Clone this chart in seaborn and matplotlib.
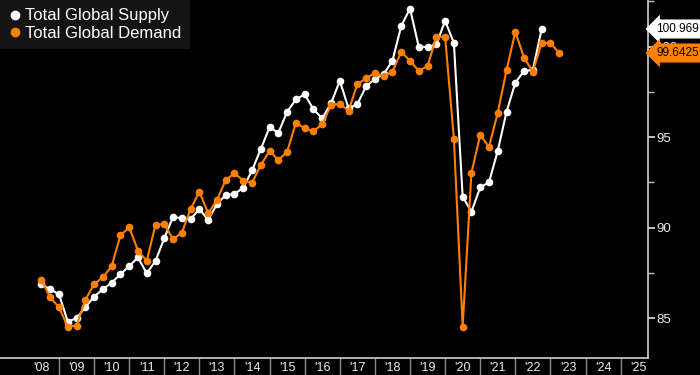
import numpy as np
import pandas as pd
import seaborn as sns
import matplotlib.pyplot as plt
import matplotlib.transforms as mtransforms
from matplotlib.lines import Line2D

# quarter-end dates, first point = end of Q2 2008
start_year = 2008.5

supply = [86.87, 86.59, 86.32, 84.81, 85.00, 85.60, 86.19, 86.59, 86.96, 87.42,
          87.88, 88.35, 87.48, 88.16, 89.41, 90.60, 90.51, 90.47, 91.03, 90.42,
          91.30, 91.80, 91.86, 92.20, 93.16, 94.34, 95.54, 95.24, 96.40, 97.08,
          97.36, 96.53, 96.03, 96.86, 98.11, 96.58, 96.82, 97.81, 98.20, 98.48,
          99.21, 101.13, 102.10, 99.98, 99.98, 100.12, 101.42, 100.20, 91.71, 90.88,
          92.22, 92.50, 94.24, 96.40, 98.00, 98.66, 98.70, 100.969]

demand = [87.11, 86.15, 85.60, 84.53, 84.59, 86.00, 86.87, 87.26, 87.86, 89.57,
          90.02, 88.73, 88.16, 90.16, 90.20, 89.36, 89.72, 91.03, 91.98, 90.79,
          91.52, 92.63, 93.00, 92.60, 92.48, 93.45, 94.24, 93.73, 94.19, 95.79,
          95.48, 95.33, 95.70, 96.77, 96.83, 96.45, 97.93, 98.24, 98.55, 98.37,
          98.61, 99.71, 99.21, 98.66, 98.92, 100.54, 100.54, 94.91, 84.53, 93.03,
          95.11, 94.46, 96.34, 98.70, 100.81, 99.38, 98.61, 100.20, 100.20, 99.6425]

years = list(range(2008, 2026))
year_labels = ["'" + str(y)[2:] for y in years]

supply_color = "#ffffff"
demand_color = "#ff8000"

df_s = pd.DataFrame({"date": start_year + 0.25 * np.arange(len(supply)), "value": supply})
df_d = pd.DataFrame({"date": start_year + 0.25 * np.arange(len(demand)), "value": demand})

sns.set_theme(style="dark")
plt.rcParams["font.family"] = ["Liberation Sans", "DejaVu Sans"]

fig = plt.figure(figsize=(7, 3.75), dpi=100)
fig.patch.set_facecolor("black")
ax = fig.add_axes([0, 17 / 375, 648 / 700, 358 / 375])
ax.set_facecolor("black")

sns.lineplot(data=df_s, x="date", y="value", color=supply_color, marker="o",
             markersize=5.5, markeredgewidth=0, linewidth=1.5, ax=ax)
sns.lineplot(data=df_d, x="date", y="value", color=demand_color, marker="o",
             markersize=5.5, markeredgewidth=0, linewidth=1.5, ax=ax)

ax.set_xlim(2007.32, 2025.78)
ax.set_ylim(82.8, 102.57)
ax.set_xlabel("")
ax.set_ylabel("")
ax.grid(False)

for side in ["left", "top"]:
    ax.spines[side].set_visible(False)
for side in ["bottom", "right"]:
    ax.spines[side].set_visible(True)
    ax.spines[side].set_color("#d0d0d0")
    ax.spines[side].set_linewidth(1.2)

# x axis: separators at year boundaries, labels centred in each year
ax.set_xticks(years[1:])
ax.set_xticklabels([])
ax.set_xticks([y + 0.5 for y in years], minor=True)
ax.set_xticklabels(year_labels, minor=True)
ax.tick_params(axis="x", which="major", direction="out", length=15, width=1,
               color="#8a8a8a", bottom=True)
ax.tick_params(axis="x", which="minor", length=0, labelsize=9,
               labelcolor="#e8ecf0", pad=3, bottom=True)

# y axis on the right
ax.yaxis.tick_right()
ax.set_yticks([85, 90, 95, 100])
ax.set_yticks([87.5, 92.5, 97.5, 102.5], minor=True)
ax.tick_params(axis="y", which="major", direction="out", length=5, width=1.2,
               color="#e0e0e0", labelsize=9.5, labelcolor="#e8ecf0", pad=1, right=True)
ax.tick_params(axis="y", which="minor", direction="out", length=4, width=1,
               color="#c0c0c0", right=True)

# last value tags
trans = mtransforms.blended_transform_factory(ax.transAxes, ax.transData)
for val, col in [(supply[-1], supply_color), (demand[-1], demand_color)]:
    ax.text(1.0125, val, f"{val:g}", transform=trans, ha="left", va="center",
            fontsize=8.5, color="black", clip_on=False, zorder=5,
            bbox=dict(boxstyle="larrow,pad=0.3", fc=col, ec="none"))

handles = [Line2D([], [], marker="o", linestyle="none", color=supply_color, markersize=6),
           Line2D([], [], marker="o", linestyle="none", color=demand_color, markersize=6)]
leg = fig.legend(handles, ["Total Global Supply", "Total Global Demand"],
                 loc="upper left", bbox_to_anchor=(0, 1), frameon=True, fancybox=False,
                 facecolor="#141414", edgecolor="none", framealpha=1,
                 fontsize=12, labelcolor="white", handletextpad=0.2,
                 handlelength=0.8, borderpad=0.5, labelspacing=0.15, borderaxespad=0)

fig.savefig("out.png", dpi=100, facecolor="black")
